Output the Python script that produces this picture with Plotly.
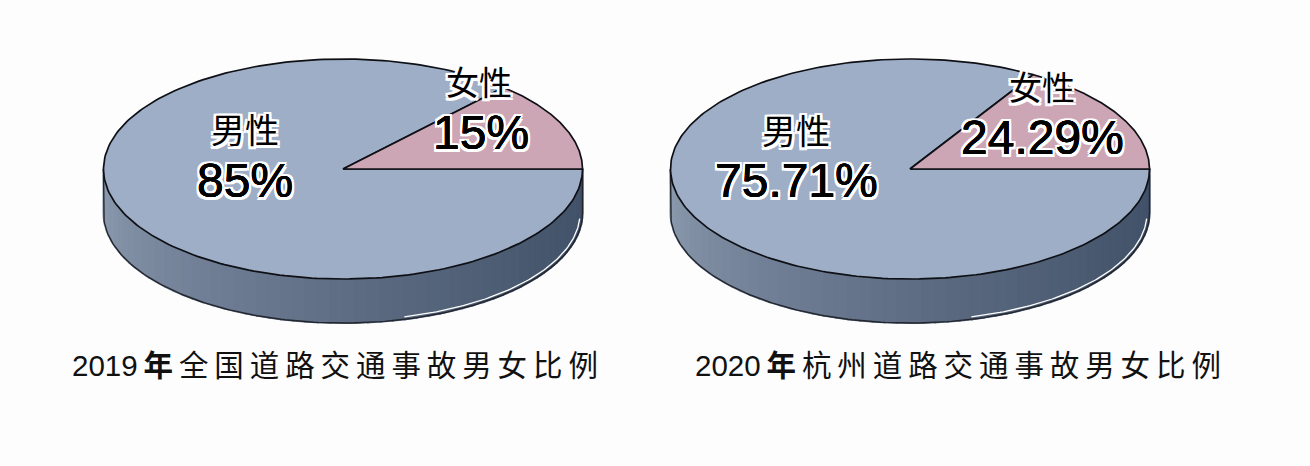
import numpy as np
import plotly.graph_objects as go

# values printed on the chart
caption_years = ["2019", "2020"]
caption_places = ["全国", "杭州"]
caption_tail = "道路交通事故男女比例"
male_labels = ["85%", "75.71%"]
female_labels = ["15%", "24.29%"]
male_name = "男性"
female_name = "女性"

# the female slice as the artist drew it (percent of the disc,
# the drawing is not to scale with the printed numbers)
female_drawn_share = [13.3, 16.4]

# layout, in pixels of the 1310x466 page
centers = [(343, 169), (910, 169)]
RX, RY, DEPTH = 239.5, 110, 44
male_name_pos = [(245, 128), (796, 129)]
male_value_pos = [(245, 180), (796, 180)]
female_name_pos = [(479, 81), (1042, 86)]
female_value_pos = [(481, 132), (1042, 137)]
caption_pos = [(335, 365), (958, 365)]

TOP_BLUE = "#9eaec6"
TOP_PINK = "#cda6b5"
LINE = "#0e1016"
THIN = "\u2009"
HALO = ", ".join(f"{a}px {b}px 0 white" for a in (-2.5, 0, 2.5) for b in (-2.5, 0, 2.5))
FAT = ", ".join(f"{a}px {b}px 0 black" for a, b in ((0.3, 0), (-0.3, 0), (0, 0.3), (0, -0.3)))
NUM_FONT = "Liberation Sans, Noto Sans CJK SC"
CJK_FONT = "Noto Sans CJK SC"


def wall_color(f):
    # left end of the wall is light, right end is dark
    stops = [(0, (142, 157, 176)), (0.3, (112, 127, 149)), (0.55, (90, 105, 127)),
             (0.8, (72, 88, 110)), (1, (64, 80, 104))]
    for (f0, c0), (f1, c1) in zip(stops, stops[1:]):
        if f <= f1:
            k = (f - f0) / (f1 - f0)
            c = [round(c0[i] + (c1[i] - c0[i]) * k) for i in range(3)]
            return "rgb(%d,%d,%d)" % tuple(c)
    return "rgb(64,80,104)"


def add_wall(fig, cx, cy):
    t = np.radians(np.linspace(180, 0, 61))
    for i in range(len(t) - 1):
        seg = t[i:i + 2]
        x = cx + RX * np.cos(seg)
        y = cy + RY * np.sin(seg)
        xs = np.concatenate([x, x[::-1], x[:1]])
        ys = np.concatenate([y, y[::-1] + DEPTH, y[:1]])
        col = wall_color(i / (len(t) - 2))
        fig.add_trace(go.Scatter(x=xs, y=ys, mode="lines", fill="toself", fillcolor=col,
                                 line=dict(color=col, width=2), hoverinfo="skip"))
    # outline of the wall
    t = np.radians(np.linspace(180, 0, 181))
    x = cx + RX * np.cos(t)
    y = cy + RY * np.sin(t) + DEPTH
    x = np.concatenate([[cx - RX], x, [cx + RX]])
    y = np.concatenate([[cy], y, [cy]])
    fig.add_trace(go.Scatter(x=x, y=y, mode="lines", line=dict(color="#23262e", width=1.4), hoverinfo="skip"))
    # white glint just inside the outline on the dark side
    t = np.radians(np.linspace(75, 3, 80))
    fig.add_trace(go.Scatter(x=cx + (RX - 2.5) * np.cos(t), y=cy + (RY - 2.5) * np.sin(t) + DEPTH, mode="lines",
                             line=dict(color="white", width=1.3), hoverinfo="skip"))


def add_slice(fig, cx, cy, a0, a1, color):
    t = np.radians(np.linspace(a0, a1, 241))
    x = np.concatenate([[cx], cx + RX * np.cos(t), [cx]])
    y = np.concatenate([[cy], cy - RY * np.sin(t), [cy]])
    fig.add_trace(go.Scatter(x=x, y=y, mode="lines", fill="toself", fillcolor=color,
                             line=dict(color=LINE, width=1.7), hoverinfo="skip"))


def add_label(fig, pos, text, size, family, shadow):
    fig.add_annotation(x=pos[0], y=pos[1], text=text, showarrow=False, xanchor="center", yanchor="middle",
                       font=dict(size=size, family=family, color="black", shadow=shadow))


fig = go.Figure()

for i, (cx, cy) in enumerate(centers):
    sweep = female_drawn_share[i] / 100 * 360
    add_wall(fig, cx, cy)
    add_slice(fig, cx, cy, sweep, 360, TOP_BLUE)
    add_slice(fig, cx, cy, 0, sweep, TOP_PINK)

    add_label(fig, male_name_pos[i], male_name, 34, CJK_FONT, HALO)
    add_label(fig, male_value_pos[i], male_labels[i], 48, NUM_FONT, FAT + ", " + HALO)
    add_label(fig, female_name_pos[i], female_name, 33, CJK_FONT, HALO)
    add_label(fig, female_value_pos[i], female_labels[i], 48, NUM_FONT, FAT + ", " + HALO)

    # the original caption is set with wide tracking, so thin spaces go between the glyphs
    caption = caption_years[i] + THIN + "<b>年</b>" + THIN + THIN.join(caption_places[i] + caption_tail)
    fig.add_annotation(x=caption_pos[i][0], y=caption_pos[i][1], text=caption, showarrow=False,
                       font=dict(size=29.5, family=NUM_FONT, color="#111111"))

fig.update_layout(width=1310, height=466, showlegend=False,
                  margin=dict(l=0, r=0, t=0, b=0),
                  paper_bgcolor="#fdfdfd", plot_bgcolor="#fdfdfd",
                  xaxis=dict(range=[0, 1310], visible=False, fixedrange=True),
                  yaxis=dict(range=[466, 0], visible=False, fixedrange=True))

fig.write_html("out.html", config=dict(displayModeBar=False),
               post_script="document.body.style.margin='0';")
